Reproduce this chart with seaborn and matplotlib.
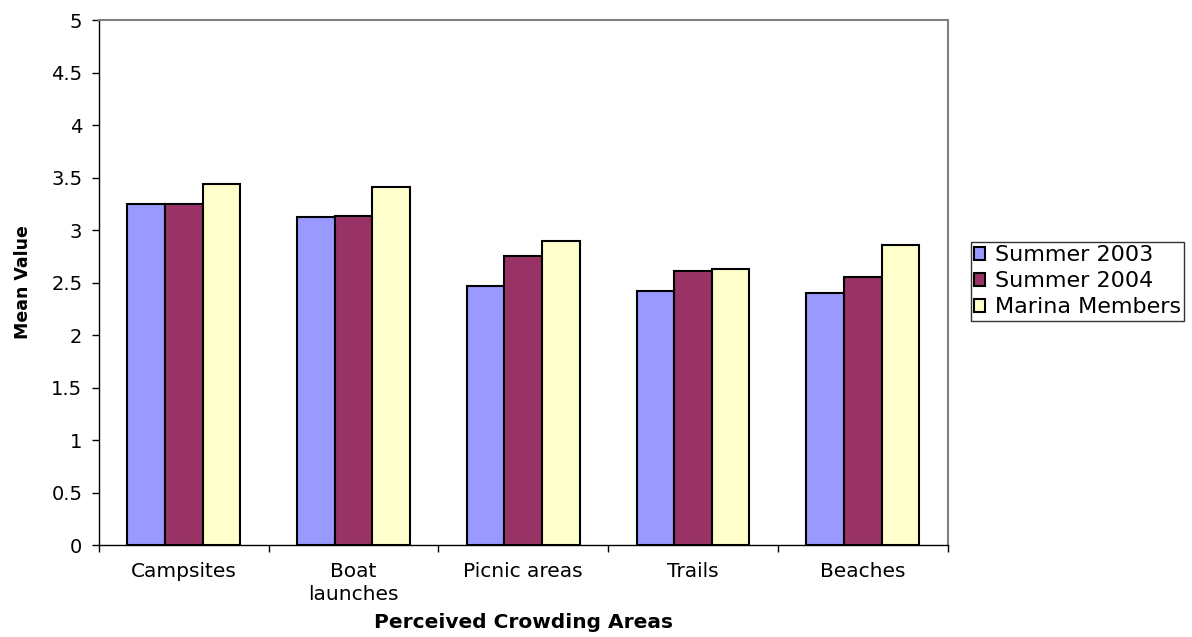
import numpy as np
import pandas as pd
import matplotlib
matplotlib.use('Agg')
import matplotlib.pyplot as plt
import seaborn as sns

# Datos
areas = ['Campsites', 'Boat\nlaunches', 'Picnic areas', 'Trails', 'Beaches']
series = ['Summer 2003', 'Summer 2004', 'Marina Members']
summer_2003 = [3.25, 3.12, 2.47, 2.42, 2.40]
summer_2004 = [3.25, 3.13, 2.75, 2.61, 2.55]
marina = [3.44, 3.41, 2.90, 2.63, 2.86]
colores = ['#9999FF', '#993366', '#FFFFCC']

df = pd.DataFrame({
    'area': areas * 3,
    'grupo': [s for s in series for _ in areas],
    'valor': summer_2003 + summer_2004 + marina,
})

sns.set_theme(style='white')
plt.rcParams['font.family'] = ['DejaVu Sans']
plt.rcParams['text.color'] = 'black'
plt.rcParams['axes.labelcolor'] = 'black'
plt.rcParams['xtick.color'] = 'black'
plt.rcParams['ytick.color'] = 'black'

fig = plt.figure(figsize=(11.92, 6.37), dpi=100)
ax = fig.add_axes([0.083, 0.1444, 0.712, 0.8242])

sns.barplot(data=df, x='area', y='valor', hue='grupo', palette=colores, saturation=1,
            width=0.665, edgecolor='black', linewidth=1.5, ax=ax, errorbar=None)

ax.set_ylim(0, 5)
ax.set_xlim(-0.5, len(areas) - 0.5)
ax.set_yticks(np.arange(0, 5.01, 0.5))
ax.set_yticklabels(['0', '0.5', '1', '1.5', '2', '2.5', '3', '3.5', '4', '4.5', '5'])
ax.tick_params(axis='y', length=5, width=1, labelsize=14, direction='out', left=True, pad=7)
ax.tick_params(axis='x', length=0, labelsize=14.5, pad=12)
ax.set_xticks(np.arange(-0.5, len(areas)), minor=True)
ax.tick_params(axis='x', which='minor', length=5, width=1, direction='out', bottom=True)
for lbl in ax.get_xticklabels():
    lbl.set_linespacing(1.3)

for s in ['left', 'bottom']:
    ax.spines[s].set_color('black')
    ax.spines[s].set_linewidth(1)
for s in ['top', 'right']:
    ax.spines[s].set_color('#808080')
    ax.spines[s].set_linewidth(1.5)

ax.set_xlabel('Perceived Crowding Areas', fontsize=14.5, fontweight='bold', labelpad=6)
ax.set_ylabel('Mean Value', fontsize=12.5, fontweight='bold', labelpad=14)

leg = ax.legend(loc='center left', bbox_to_anchor=(1.027, 0.502), frameon=True, fancybox=False,
                edgecolor='black', fontsize=16, handlelength=0.5, handleheight=0.5,
                handletextpad=0.45, borderpad=0.15, labelspacing=0.27, borderaxespad=0)
leg.get_frame().set_linewidth(1)
for h in leg.legend_handles:
    h.set_edgecolor('black')
    h.set_linewidth(1.5)

fig.savefig('out.png', dpi=100)
